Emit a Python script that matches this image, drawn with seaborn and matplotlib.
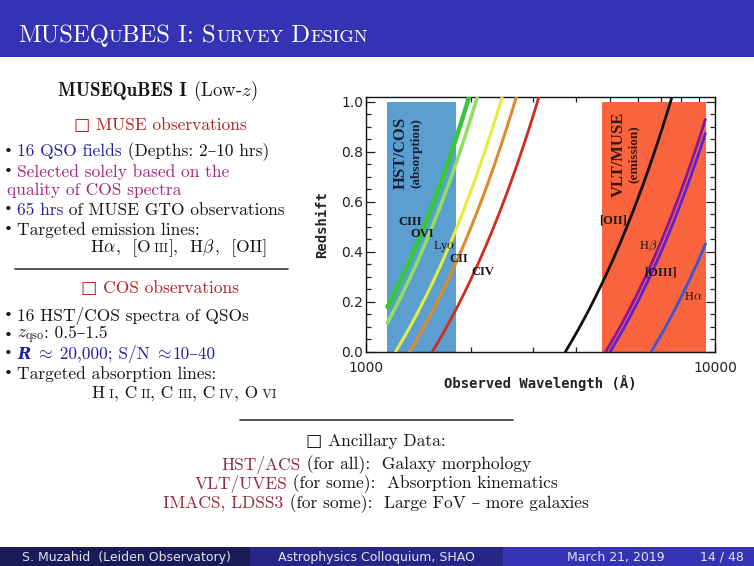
import numpy as np
import pandas as pd
import matplotlib
matplotlib.use("Agg")
import matplotlib.pyplot as plt
import seaborn as sns
from matplotlib.offsetbox import TextArea, HPacker, AnchoredOffsetbox
from matplotlib.patches import Rectangle
from matplotlib.ticker import FixedLocator, NullFormatter, FuncFormatter, MultipleLocator

# ---------------- data ----------------
line_names = ["CIII", "OVI", "Lya", "CII", "CIV", "[OII]", "Hb", "[OIII]", "Ha"]
rest_wavelengths = [977.0, 1031.9, 1215.7, 1334.5, 1549.0, 3727.0, 4861.3, 5006.8, 6562.8]
line_colors = ["#35c935", "#8fe05c", "#e8ea3c", "#df8a2e", "#d22a1c",
               "#111111", "#8b149e", "#5522de", "#3a55d8"]
line_widths = [3.2, 2.6, 2.2, 2.2, 2.0, 2.0, 2.0, 2.0, 2.0]
cos_range = [1150, 1815]
muse_range = [4750, 9400]
band_z = [0.0, 1.0]
x_major_ticks = [1000, 10000]
x_minor_ticks = [2000, 3000, 4000, 5000, 6000, 7000, 8000, 9000]
label_texts = ["CIII", "OVI", "Ly$\\alpha$", "CII", "CIV", "[OII]", "H$\\beta$", "[OIII]", "H$\\alpha$"]
label_wavelengths = [1337, 1450, 1684, 1848, 2160, 5115, 6434, 6957, 8660]
label_z = [0.52, 0.47, 0.42, 0.37, 0.32, 0.524, 0.423, 0.318, 0.218]
label_bold = [True, True, False, True, True, True, False, True, False]

# ---------------- style ----------------
sns.set_style("ticks")
plt.rcParams["mathtext.fontset"] = "cm"
plt.rcParams["font.family"] = ["cmr10", "DejaVu Serif", "DejaVu Sans"]
SERIF = ["cmr10", "DejaVu Serif", "DejaVu Sans"]
BOLD = ["cmb10", "DejaVu Serif", "DejaVu Sans"]
IDL = ["Liberation Serif", "DejaVu Serif"]

BLACK = "#141414"
RED = "#b41f1f"
BLUE = "#1f1fa6"
MAG = "#a3267f"
DRED = "#8f2a3a"
BAR = "#3333b3"
FS = 12.5

W, H = 754, 566
fig = plt.figure(figsize=(W / 100, H / 100), dpi=100)
bg = fig.add_axes([0, 0, 1, 1])
bg.set_xlim(0, W)
bg.set_ylim(H, 0)
bg.axis("off")

# title bar and footer
bg.add_patch(Rectangle((0, 0), W, 57, color=BAR, lw=0))
bg.add_patch(Rectangle((0, 547), 250, 19, color="#1a1a59", lw=0))
bg.add_patch(Rectangle((250, 547), 253, 19, color="#262686", lw=0))
bg.add_patch(Rectangle((503, 547), 251, 19, color=BAR, lw=0))


def rich(x, y, pieces, loc="center left", size=FS):
    boxes = []
    for txt, props in pieces:
        p = dict(fontsize=size, family=SERIF, color=BLACK)
        p.update(props)
        boxes.append(TextArea(txt, textprops=p))
    pack = HPacker(children=boxes, align="baseline", pad=0, sep=0)
    ab = AnchoredOffsetbox(loc=loc, child=pack, pad=0, borderpad=0, frameon=False,
                           bbox_to_anchor=(x, y), bbox_transform=bg.transData)
    bg.add_artist(ab)


# title in small caps
big, small = 17.8, 13.2
wt = dict(color="white")
rich(18, 36, [("MUSEQ", dict(wt, fontsize=big)), ("U", dict(wt, fontsize=small)),
              ("BES I: S", dict(wt, fontsize=big)), ("URVEY", dict(wt, fontsize=small)),
              (" D", dict(wt, fontsize=big)), ("ESIGN", dict(wt, fontsize=small))])

# footer
ft = dict(family=["DejaVu Sans"], color="#e4e4f0", fontsize=9)
rich(126, 557, [("S. Muzahid  (Leiden Observatory)", ft)], loc="center")
rich(376, 557, [("Astrophysics Colloquium, SHAO", ft)], loc="center")
rich(616, 557, [("March 21, 2019", ft)], loc="center")
rich(722, 557, [("14 / 48", ft)], loc="center")

# left column
rich(158, 91, [("MUSEQuBES I", dict(family=BOLD, fontsize=13.5)), (" (Low-$z$)", dict(fontsize=13.5))],
     loc="center")
rich(160, 125, [("□ MUSE observations", dict(color=RED))], loc="center")
bul = dict(fontsize=11)
for yy in [151.7, 171.7, 210, 230, 316, 336, 354.3, 374]:
    rich(4, yy, [("•", bul)])
rich(17, 151.7, [("16 QSO fields", dict(color=BLUE)), (" (Depths: 2–10 hrs)", {})])
rich(17, 171.7, [("Selected solely based on the", dict(color=MAG))])
rich(7, 190, [("quality of COS spectra", dict(color=MAG))])
rich(17, 210, [("65 hrs", dict(color=BLUE)), (" of MUSE GTO observations", {})])
rich(17, 230, [("Targeted emission lines:", {})])
sc = dict(fontsize=9.2)
rich(90, 248.3, [("H$\\alpha$", {}), (",  [O", {}), (" III", sc),
                 ("],  H$\\beta$", {}), (",  [OII]", {})])
bg.plot([15, 288], [269, 269], color="#333333", lw=1.2)
rich(160, 288.3, [("□ COS observations", dict(color=RED))], loc="center")
rich(17, 316, [("16 HST/COS spectra of QSOs", {})])
rich(17, 336, [("$z_{\\rm qso}$", {}), (": 0.5–1.5", {})])
rich(17, 354.3, [("R", dict(color=BLUE, family=["DejaVu Serif"], weight="bold", style="italic",
                            fontsize=11.5)),
                 (" $\\approx$", dict(color=BLUE)), (" 20,000; S/N", dict(color=BLUE)),
                 (" $\\approx$", dict(color=BLUE)), ("10–40", dict(color=BLUE))])
rich(17, 374, [("Targeted absorption lines:", {})])
rich(184, 393.3, [("H", {}), (" I", sc), (", C", {}), (" II", sc), (", C", {}), (" III", sc),
                  (", C", {}), (" IV", sc), (", O", {}), (" VI", sc)], loc="center")

# ancillary block
bg.plot([240, 513], [420, 420], color="#333333", lw=1.2)
rich(376, 441, [("□ Ancillary Data:", {})], loc="center")
rich(376, 465, [("HST/ACS", dict(color=DRED)), (" (for all):  Galaxy morphology", {})], loc="center")
rich(376, 484, [("VLT/UVES", dict(color=DRED)), (" (for some):  Absorption kinematics", {})], loc="center")
rich(376, 503.3, [("IMACS, LDSS3", dict(color=DRED)), (" (for some):  Large FoV – more galaxies", {})],
     loc="center")

# ---------------- chart ----------------
ax = fig.add_axes([366 / W, 1 - 351.7 / H, 349 / W, (351.7 - 97) / H])
ax.set_xscale("log")
ax.set_xlim(1000, 10000)
ax.set_ylim(0, 1.02)

ax.fill_between(cos_range, band_z[0], band_z[1], color="#5b9fd1", lw=0, zorder=1)
ax.fill_between(muse_range, band_z[0], band_z[1], color="#f9643f", lw=0, zorder=1)

zgrid = np.linspace(0, 1.05, 300)
rows = []
for name, lam in zip(line_names, rest_wavelengths):
    obs = lam * (1 + zgrid)
    keep = (obs >= cos_range[0]) & (obs <= muse_range[1])
    rows.append(pd.DataFrame({"wavelength": obs[keep], "z": zgrid[keep], "line": name}))
df = pd.concat(rows, ignore_index=True)

sns.lineplot(data=df, x="wavelength", y="z", hue="line", size="line",
             palette=dict(zip(line_names, line_colors)),
             sizes=dict(zip(line_names, line_widths)),
             sort=False, estimator=None, legend=False, ax=ax, zorder=3)

for t, lx, lz, b in zip(label_texts, label_wavelengths, label_z, label_bold):
    ax.text(lx, lz, t, ha="center", va="center", family=IDL,
            weight="bold" if b else "normal", fontsize=9, color="#161616", zorder=5)

ax.text(1255, 0.795, "HST/COS", rotation=90, ha="center", va="center", family=IDL,
        weight="bold", fontsize=12, color="#1b1f3a", zorder=5)
ax.text(1390, 0.795, "(absorption)", rotation=90, ha="center", va="center", family=IDL,
        weight="bold", fontsize=9.5, color="#1b1f3a", zorder=5)
ax.text(5300, 0.79, "VLT/MUSE", rotation=90, ha="center", va="center", family=IDL,
        weight="bold", fontsize=12, color="#3a1410", zorder=5)
ax.text(5850, 0.79, "(emission)", rotation=90, ha="center", va="center", family=IDL,
        weight="bold", fontsize=9.5, color="#3a1410", zorder=5)

ax.xaxis.set_major_locator(FixedLocator(x_major_ticks))
ax.xaxis.set_minor_locator(FixedLocator(x_minor_ticks))
ax.xaxis.set_major_formatter(FuncFormatter(lambda v, p: f"{int(round(v))}"))
ax.xaxis.set_minor_formatter(NullFormatter())
ax.yaxis.set_major_locator(MultipleLocator(0.2))
ax.yaxis.set_minor_locator(MultipleLocator(0.05))
ax.yaxis.set_major_formatter(FuncFormatter(lambda v, p: f"{v:.1f}"))
ax.tick_params(which="both", direction="in", top=True, right=True, colors="#222222",
               labelsize=10, width=0.9)
ax.tick_params(which="major", length=6.5)
ax.tick_params(which="minor", length=3.5)
ax.tick_params(axis="x", which="major", pad=7)
ax.tick_params(axis="y", which="major", pad=2)
for lab in ax.get_xticklabels() + ax.get_yticklabels():
    lab.set_family("DejaVu Sans")
for s in ax.spines.values():
    s.set_linewidth(1.0)
    s.set_color("#111111")

ax.set_xlabel("Observed Wavelength (Å)", family="DejaVu Sans Mono", weight="bold",
              fontsize=10, labelpad=0, color="#222222")
ax.set_ylabel("Redshift", family="DejaVu Sans Mono", weight="bold",
              fontsize=10, labelpad=9, color="#222222")

fig.savefig("out.png", dpi=100)
